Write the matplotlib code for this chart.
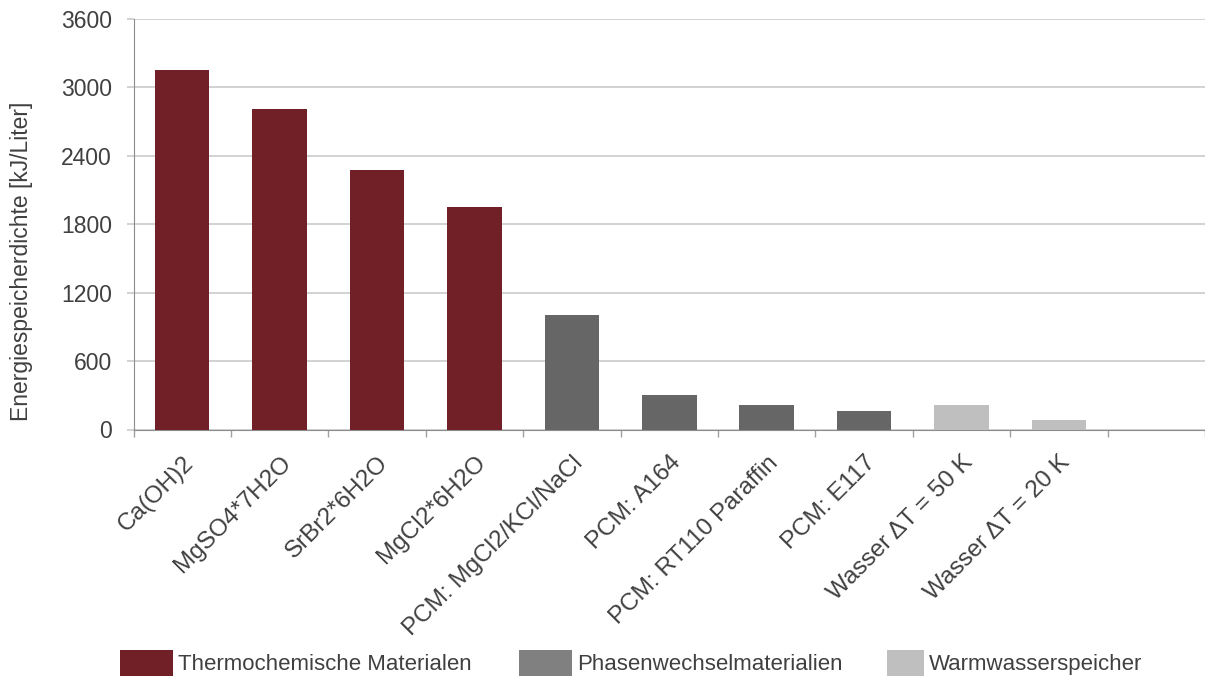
import matplotlib
matplotlib.use("Agg")
import matplotlib.pyplot as plt
from matplotlib.patches import Patch

plt.rcParams['font.family'] = ['Liberation Sans', 'DejaVu Sans']

categories = ["Ca(OH)2", "MgSO4*7H2O", "SrBr2*6H2O", "MgCl2*6H2O",
              "PCM: MgCl2/KCl/NaCl", "PCM: A164", "PCM: RT110 Paraffin",
              "PCM: E117", "Wasser \u0394T = 50 K", "Wasser \u0394T = 20 K"]
values = [3150, 2805, 2270, 1950, 1005, 305, 215, 165, 212, 84]
groups = [0, 0, 0, 0, 1, 1, 1, 1, 2, 2]
group_names = ["Thermochemische Materialen", "Phasenwechselmaterialien", "Warmwasserspeicher"]
bar_colors = ["#722028", "#666666", "#bfbfbf"]
legend_colors = ["#722028", "#808080", "#bfbfbf"]

text_col = "#404040"
W, H = 1205, 677

fig = plt.figure(figsize=(W / 100, H / 100), dpi=100)
ax = fig.add_axes([133.5 / W, 1 - 429.5 / H, (W - 133.5) / W, (429.5 - 18.7) / H])

n_slots = len(categories) + 1
xs = list(range(len(categories)))
ax.bar(xs, values, width=0.56, color=[bar_colors[g] for g in groups], zorder=3)

ax.set_xlim(-0.5, n_slots - 0.5)
ax.set_ylim(0, 3600)
ax.set_yticks(range(0, 3601, 600))
ax.yaxis.grid(True, color="#c6c6c6", linewidth=1.1, zorder=0)

ax.set_xticks([i - 0.5 for i in range(n_slots + 1)])
ax.set_xticklabels([])
ax.set_xticks(xs, minor=True)
ax.set_xticklabels(categories, minor=True, rotation=45, ha="right", va="top",
                   rotation_mode="anchor", fontsize=17.5, color=text_col)
ax.tick_params(axis="x", which="minor", length=0, pad=16)
ax.tick_params(axis="x", which="major", length=5, color="#a0a0a0", width=1)
ax.tick_params(axis="y", length=5, color="#c6c6c6", width=1.1, pad=10.5,
               labelsize=16.5, labelcolor=text_col)

for s in ["top", "right"]:
    ax.spines[s].set_visible(False)
ax.spines["left"].set_color("#8c8c8c")
ax.spines["bottom"].set_color("#8c8c8c")

ax.set_ylabel("Energiespeicherdichte [kJ/Liter]", fontsize=16.5, color=text_col, va="center")
ax.yaxis.set_label_coords((22 - 133.5) / (W - 133.5), (429.5 - 261) / (429.5 - 18.7))

# legend entries placed one by one like the original
leg_x = [120, 519, 887]
leg_w = [53, 53, 37]
fs = 16
fs_px = fs * 100 / 72
for name, col, lx, lw in zip(group_names, legend_colors, leg_x, leg_w):
    leg = fig.legend(handles=[Patch(facecolor=col, edgecolor="none")], labels=[name],
                     loc="center left", bbox_to_anchor=(lx / W, 1 - 663 / H),
                     frameon=False, borderpad=0, borderaxespad=0, fontsize=fs,
                     handlelength=lw / fs_px, handleheight=31 / fs_px,
                     handletextpad=5 / fs_px, labelcolor=text_col)

fig.savefig("out.png", dpi=100)
